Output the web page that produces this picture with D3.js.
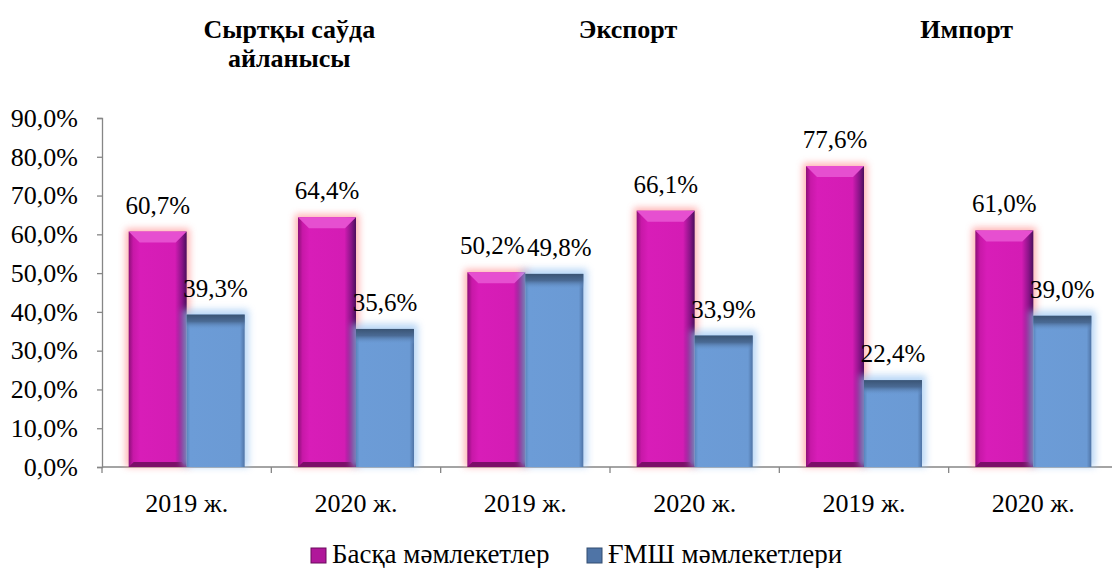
<!DOCTYPE html>
<html>
<head>
<meta charset="utf-8">
<script src="https://cdn.jsdelivr.net/npm/d3@7"></script>
<style>
  body { margin: 0; background: #fff; }
</style>
</head>
<body>
<div id="chart"></div>
<script>
// data
const categories = ["2019 ж.", "2020 ж.", "2019 ж.", "2020 ж.", "2019 ж.", "2020 ж."];
const otherValues = [60.7, 64.4, 50.2, 66.1, 77.6, 61.0];   // Басқа мәмлекетлер
const cisValues = [39.3, 35.6, 49.8, 33.9, 22.4, 39.0];     // ҒМШ мәмлекетлери
const seriesNames = ["Басқа мәмлекетлер", "ҒМШ мәмлекетлери"];
const sectionTitles = [["Сыртқы саўда", "айланысы"], ["Экспорт"], ["Импорт"]];
const yTicks = [0, 10, 20, 30, 40, 50, 60, 70, 80, 90];

const W = 1112, H = 568;
const margin = { top: 118, left: 102, bottom: 101 };
const plotRight = 1118;
const FONT = "'Liberation Serif', 'Times New Roman', Times, serif";
const FS = 26;

const svg = d3.select("#chart").append("svg")
    .attr("width", W).attr("height", H)
    .style("font-family", FONT);

const defs = svg.append("defs");
defs.append("filter").attr("id", "glow")
    .attr("x", "-30%").attr("y", "-30%").attr("width", "160%").attr("height", "160%")
    .append("feGaussianBlur").attr("stdDeviation", 3.5);

// pink bar side gradient
const pg = defs.append("linearGradient").attr("id", "pinkSide");
pg.append("stop").attr("offset", "0%").attr("stop-color", "#8c0f78");
pg.append("stop").attr("offset", "8%").attr("stop-color", "#c818a8");
pg.append("stop").attr("offset", "20%").attr("stop-color", "#d81db8");
pg.append("stop").attr("offset", "80%").attr("stop-color", "#d41cb4");
pg.append("stop").attr("offset", "92%").attr("stop-color", "#8a1488");
pg.append("stop").attr("offset", "100%").attr("stop-color", "#4a0e5c");

const bg = defs.append("linearGradient").attr("id", "blueSide");
bg.append("stop").attr("offset", "0%").attr("stop-color", "#5a84bc");
bg.append("stop").attr("offset", "6%").attr("stop-color", "#6c9cd7");
bg.append("stop").attr("offset", "92%").attr("stop-color", "#6b9ad4");
bg.append("stop").attr("offset", "100%").attr("stop-color", "#4f74a6");

const bt = defs.append("linearGradient").attr("id", "blueTop")
    .attr("x1", 0).attr("y1", 0).attr("x2", 0).attr("y2", 1);
bt.append("stop").attr("offset", "0%").attr("stop-color", "#3a5474");
bt.append("stop").attr("offset", "45%").attr("stop-color", "#4a6a94");
bt.append("stop").attr("offset", "100%").attr("stop-color", "#6b9ad4").attr("stop-opacity", 0);

const x0 = d3.scaleBand().domain(d3.range(categories.length))
    .range([margin.left, plotRight]).padding(0);
const x1 = d3.scaleBand().domain([0, 1])
    .range([0, x0.bandwidth()]).paddingInner(0).paddingOuter(0.46);
const y = d3.scaleLinear().domain([0, 90]).range([H - margin.bottom, margin.top]);

// axes
const yAxis = svg.append("g")
    .attr("transform", `translate(${margin.left},0)`)
    .call(d3.axisLeft(y).tickValues(yTicks).tickSize(5).tickPadding(19)
        .tickFormat(d => d.toFixed(1).replace(".", ",") + "%"));
yAxis.attr("font-family", null).attr("font-size", null);
yAxis.select(".domain").attr("stroke", "#868686").attr("stroke-width", 1.3);
yAxis.selectAll(".tick line").attr("stroke", "#868686").attr("stroke-width", 1.3);
yAxis.selectAll(".tick text").attr("font-size", FS).attr("fill", "#000");

const xAxisG = svg.append("g").attr("transform", `translate(0,${y(0)})`);
xAxisG.append("line")
    .attr("x1", margin.left).attr("x2", plotRight)
    .attr("stroke", "#868686").attr("stroke-width", 1.3);
xAxisG.selectAll(".xtick").data(d3.range(categories.length + 1)).join("line")
    .attr("x1", i => margin.left + i * x0.step())
    .attr("x2", i => margin.left + i * x0.step())
    .attr("y1", 0).attr("y2", 6)
    .attr("stroke", "#868686").attr("stroke-width", 1.3);
xAxisG.selectAll(".xlab").data(categories).join("text")
    .attr("x", (d, i) => x0(i) + x0.bandwidth() / 2)
    .attr("y", 45)
    .attr("text-anchor", "middle")
    .attr("font-size", FS)
    .text(d => d);

// bars
const groups = svg.append("g").selectAll("g").data(categories).join("g")
    .attr("transform", (d, i) => `translate(${x0(i)},0)`);
const bw = x1.bandwidth();

// pink glow + bar
groups.append("rect")
    .attr("x", x1(0) - 3).attr("width", bw + 6)
    .attr("y", (d, i) => y(otherValues[i]) - 3)
    .attr("height", (d, i) => y(0) - y(otherValues[i]) + 3)
    .attr("fill", "#ff9a9a").attr("opacity", 0.75)
    .attr("filter", "url(#glow)");
groups.append("rect")
    .attr("x", x1(0)).attr("width", bw)
    .attr("y", (d, i) => y(otherValues[i]))
    .attr("height", (d, i) => y(0) - y(otherValues[i]))
    .attr("fill", "url(#pinkSide)");
// bevel top
groups.append("polygon")
    .attr("points", (d, i) => {
        const t = y(otherValues[i]), l = x1(0), r = x1(0) + bw;
        return [[l, t], [r, t], [r - 11, t + 11], [l + 11, t + 11]].join(" ");
    })
    .attr("fill", "#e64fd0");
groups.append("polygon")
    .attr("points", (d, i) => {
        const b = y(0), l = x1(0), r = x1(0) + bw;
        return [[l + 5, b - 5], [r - 5, b - 5], [r, b], [l, b]].join(" ");
    })
    .attr("fill", "#7c0f68");

// blue glow + bar
groups.append("rect")
    .attr("x", x1(1) - 4).attr("width", bw + 8)
    .attr("y", (d, i) => y(cisValues[i]) - 5)
    .attr("height", (d, i) => y(0) - y(cisValues[i]) + 5)
    .attr("fill", "#9cc6f2").attr("opacity", 0.7)
    .attr("filter", "url(#glow)");
groups.append("rect")
    .attr("x", x1(1)).attr("width", bw)
    .attr("y", (d, i) => y(cisValues[i]))
    .attr("height", (d, i) => y(0) - y(cisValues[i]))
    .attr("fill", "url(#blueSide)");
groups.append("rect")
    .attr("x", x1(1)).attr("width", bw)
    .attr("y", (d, i) => y(cisValues[i]))
    .attr("height", 15)
    .attr("fill", "url(#blueTop)");

// value labels (pushed apart when both sit at the same height)
const fmt = v => v.toFixed(1).replace(".", ",") + "%";
const LFS = 25;
const clash = i => Math.abs(y(otherValues[i]) - y(cisValues[i])) < 20;
groups.append("text")
    .attr("x", (d, i) => x1(0) + bw / 2 - (clash(i) ? 4 : 0))
    .attr("y", (d, i) => y(otherValues[i]) - 18)
    .attr("text-anchor", "middle").attr("font-size", LFS)
    .text((d, i) => fmt(otherValues[i]));
groups.append("text")
    .attr("x", (d, i) => x1(1) + bw / 2 + (clash(i) ? 5 : 0))
    .attr("y", (d, i) => y(cisValues[i]) - 18)
    .attr("text-anchor", "middle").attr("font-size", LFS)
    .text((d, i) => fmt(cisValues[i]));

// section titles
sectionTitles.forEach((lines, s) => {
    const cx = margin.left + (2 * s + 1) * x0.step() + 18;
    const t = svg.append("text")
        .attr("x", cx).attr("y", 38)
        .attr("text-anchor", "middle")
        .attr("font-size", 26).attr("font-weight", "bold");
    lines.forEach((ln, k) => {
        t.append("tspan").attr("x", cx).attr("dy", k === 0 ? 0 : 29).text(ln);
    });
});

// legend
const legend = svg.append("g");
const legItems = [
    { name: seriesNames[0], x: 311, fill: "#b0179a", edge: "#6a0a5c" },
    { name: seriesNames[1], x: 587, fill: "#4f74a6", edge: "#324c70" }
];
legItems.forEach(it => {
    legend.append("rect").attr("x", it.x).attr("y", 548)
        .attr("width", 15).attr("height", 15)
        .attr("fill", it.fill).attr("stroke", it.edge).attr("stroke-width", 1);
    legend.append("text").attr("x", it.x + 21).attr("y", 563)
        .attr("font-size", 27).text(it.name);
});
</script>
</body>
</html>
